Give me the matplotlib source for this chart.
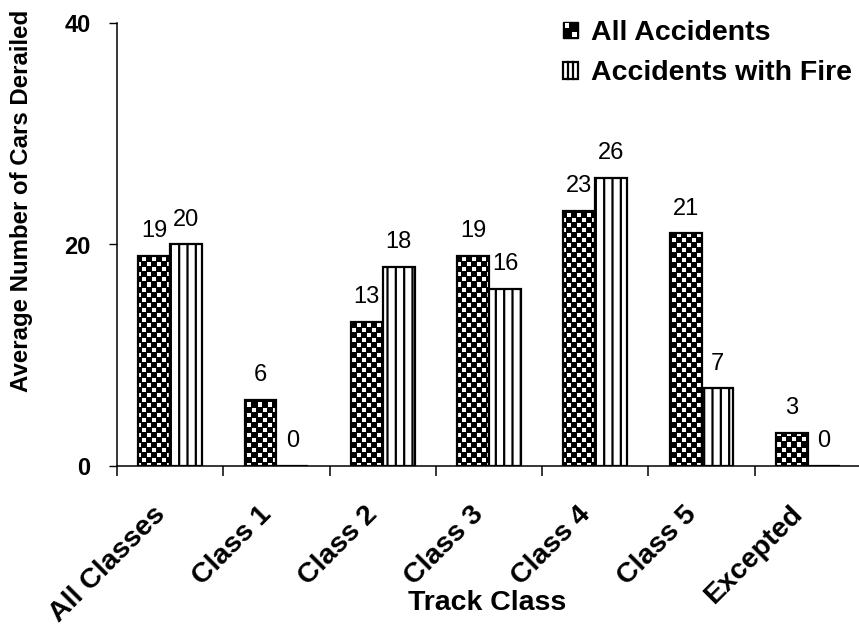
import numpy as np
import matplotlib
matplotlib.use('Agg')
import matplotlib.pyplot as plt
from matplotlib.patches import Rectangle, Patch
from matplotlib.lines import Line2D
from matplotlib.legend_handler import HandlerBase
from matplotlib.transforms import ScaledTranslation

categories = ['All Classes', 'Class 1', 'Class 2', 'Class 3', 'Class 4', 'Class 5', 'Excepted']
all_accidents = [19, 6, 13, 19, 23, 21, 3]
with_fire = [20, 0, 18, 16, 26, 7, 0]
series_names = ['All Accidents', 'Accidents with Fire']
y_ticks = [0, 20, 40]

plt.rcParams['font.family'] = ['Liberation Sans', 'DejaVu Sans']
plt.rcParams['hatch.linewidth'] = 1.6

W_PX, H_PX = 859, 628
fig = plt.figure(figsize=(W_PX / 100, H_PX / 100), dpi=100)
AX_L, AX_R, AX_T, AX_B = 117, 861, 23, 466
ax = fig.add_axes([AX_L / W_PX, (H_PX - AX_B) / H_PX, (AX_R - AX_L) / W_PX, (AX_B - AX_T) / H_PX])

x = np.arange(len(categories))
w = 0.3
b1 = ax.bar(x - w / 2, all_accidents, w, facecolor='none', edgecolor='black',
            linewidth=1.6, zorder=3)
b2 = ax.bar(x + w / 2, with_fire, w, facecolor='white', edgecolor='black',
            linewidth=1.6, hatch='||', zorder=3)

# checkerboard texture clipped to the "All Accidents" bars
Hh, Ww = AX_B - AX_T, AX_R - AX_L
ii, jj = np.mgrid[0:Hh, 0:Ww]
cell = 5
white = (((ii // cell) + (jj // cell)) % 2 == 0) & ((ii % cell) < 4) & ((jj % cell) < 4)
tex = np.where(white, 1.0, 0.0)
for bar in b1:
    im = ax.imshow(tex, cmap='gray', vmin=0, vmax=1, extent=(0, 1, 0, 1),
                   transform=ax.transAxes, aspect='auto',
                   interpolation='nearest', zorder=2)
    im.set_clip_path(bar)

ax.bar_label(b1, labels=[str(v) for v in all_accidents], padding=10, fontsize=17)
ax.bar_label(b2, labels=[str(v) for v in with_fire], padding=10, fontsize=17)

ax.set_xlim(-0.5, len(categories) - 0.5)
ax.set_ylim(0, 40)

for s in ['top', 'right']:
    ax.spines[s].set_visible(False)
for s in ['left', 'bottom']:
    ax.spines[s].set_linewidth(1.1)

ax.set_yticks(y_ticks)
ax.set_yticklabels([str(t) for t in y_ticks], fontsize=17, fontweight='bold')
ax.tick_params(axis='y', direction='out', length=6, width=1, pad=13)

ax.set_xticks(np.arange(-0.5, len(categories), 1.0))
ax.set_xticklabels([])
ax.tick_params(axis='x', which='major', direction='out', length=7, width=1.1)
ax.set_xticks(x, minor=True)
ax.set_xticklabels(categories, minor=True, rotation=45, ha='right', va='center',
                   rotation_mode='anchor', fontsize=20.5, fontweight='bold')
ax.tick_params(axis='x', which='minor', length=0, pad=32)
off = ScaledTranslation(-9 / 100, 0, fig.dpi_scale_trans)
for lab in ax.get_xticklabels(minor=True):
    lab.set_transform(lab.get_transform() + off)

fig.text(487 / W_PX, 1 - 603 / H_PX, 'Track Class', ha='center', va='center',
         fontsize=20.5, fontweight='bold')
fig.text(22 / W_PX, 1 - 201 / H_PX, 'Average Number of Cars Derailed', rotation=90,
         ha='center', va='center', fontsize=17.3, fontweight='bold')


class CheckerHandler(HandlerBase):
    def create_artists(self, legend, orig_handle, xdescent, ydescent, width, height,
                       fontsize, trans):
        x0, y0 = -xdescent, -ydescent
        arts = [Rectangle((x0, y0), width, height, facecolor='black',
                          edgecolor='black', lw=1, transform=trans)]
        n = 2
        cw, ch = width / n, height / n
        m = 0.2
        for i in range(n):
            for j in range(n):
                if (i + j) % 2 == 1:
                    arts.append(Rectangle((x0 + i * cw + cw * m, y0 + j * ch + ch * m),
                                          cw * (1 - 2 * m), ch * (1 - 2 * m),
                                          facecolor='white', edgecolor='none',
                                          transform=trans))
        return arts


class StripeHandler(HandlerBase):
    def create_artists(self, legend, orig_handle, xdescent, ydescent, width, height,
                       fontsize, trans):
        x0, y0 = -xdescent, -ydescent
        arts = [Rectangle((x0, y0), width, height, facecolor='white',
                          edgecolor='black', lw=1.6, transform=trans)]
        for k in (1, 2):
            xx = x0 + width * k / 3
            arts.append(Line2D([xx, xx], [y0, y0 + height], color='black', lw=1.6,
                               transform=trans))
        return arts


h1 = Patch(label=series_names[0])
h2 = Patch(label=series_names[1])
fig.legend(handles=[h1, h2], handler_map={h1: CheckerHandler(), h2: StripeHandler()},
           loc='upper left', bbox_to_anchor=(563 / W_PX, 1 - 20 / H_PX),
           frameon=False, borderpad=0, borderaxespad=0,
           handlelength=0.53, handleheight=0.53, handletextpad=0.45,
           labelspacing=0.5, prop={'weight': 'bold', 'size': 20.5})

fig.savefig('out.png', dpi=100)
